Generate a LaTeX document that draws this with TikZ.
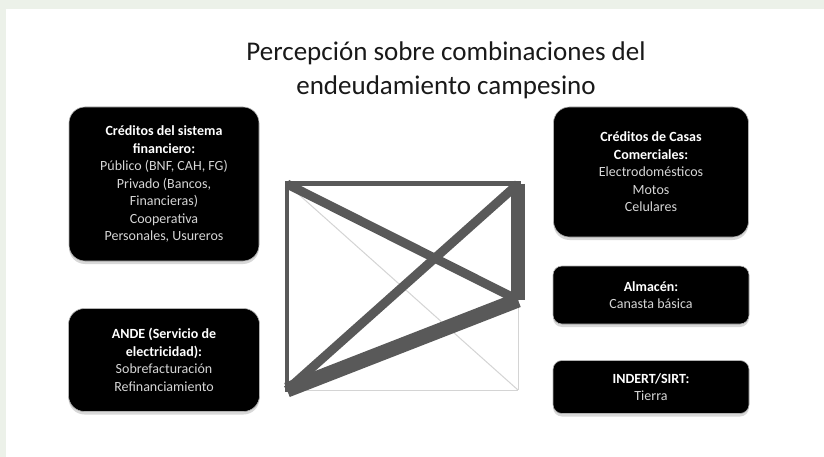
\documentclass[tikz,border=0pt]{standalone}
\usepackage{fontspec}
\setmainfont{Carlito}
\usetikzlibrary{shadows}

\definecolor{bgframe}{RGB}{236,241,233}
\definecolor{linkdark}{RGB}{89,89,89}
\definecolor{linklight}{RGB}{212,212,212}
\definecolor{boxtext}{RGB}{214,214,214}

\newcommand{\hd}[1]{\textcolor{white}{\bfseries #1}}

\tikzset{
  debtbox/.style={fill=black, draw=gray!60, line width=0.6pt, rounded corners=16pt,
    text=boxtext, align=center, inner sep=0pt,
    font=\fontsize{14}{17.5}\selectfont,
    drop shadow={opacity=0.3, shadow xshift=0pt, shadow yshift=-3pt}},
  flatbox/.style={debtbox, rounded corners=9pt},
  link/.style={draw=linkdark},
  weaklink/.style={draw=linklight, line width=1pt}
}

\begin{document}
\begin{tikzpicture}[x=1pt, y=-1pt]
    % Frame
    \fill[bgframe] (0,0) rectangle (824,457);
    \fill[white] (6,9) rectangle (824,457);
    \useasboundingbox (0,0) rectangle (824,457);

    % Title
    \node[font=\fontsize{27}{34}\selectfont, align=center, text=black!90] (title) at (446,70)
        {Percepción sobre combinaciones del\\endeudamiento campesino};

    % Left boxes
    \node[debtbox, minimum width=190pt, minimum height=154pt] (fin) at (164,184)
        {\hd{Créditos del sistema}\\ \hd{financiero:}\\ Público (BNF, CAH, FG)\\ Privado (Bancos,\\ Financieras)\\ Cooperativa\\ Personales, Usureros};
    \node[debtbox, minimum width=191pt, minimum height=103pt] (ande) at (164,360)
        {\hd{ANDE (Servicio de}\\ \hd{electricidad):}\\ Sobrefacturación\\ Refinanciamiento};

    % Right boxes
    \node[debtbox, minimum width=195pt, minimum height=130pt] (casas) at (651,172)
        {\hd{Créditos de Casas}\\ \hd{Comerciales:}\\ Electrodomésticos\\ Motos\\ Celulares};
    \node[flatbox, minimum width=196pt, minimum height=58pt] (almacen) at (651,295)
        {\hd{Almacén:}\\ Canasta básica};
    \node[flatbox, minimum width=196pt, minimum height=53pt] (indert) at (651,387)
        {\hd{INDERT/SIRT:}\\ Tierra};

    % Corners of the web
    \coordinate (pfin) at (287,184);
    \coordinate (pcasas) at (518,184);
    \coordinate (palm) at (518,300);
    \coordinate (pande) at (287,390);
    \coordinate (pind) at (518,390);

    % Weak links
    \foreach \a/\b in {pfin/pind, pande/pind, palm/pind}
        \draw[weaklink] (\a) -- (\b);

    % Strong links
    \draw[link, line width=4pt, line cap=rect] (pfin) -- (pande);
    \draw[link, line width=5pt, line cap=rect] (pfin) -- (pcasas);
    \draw[link, line width=9pt] (pfin) -- (palm);
    \draw[link, line width=9pt] (pande) -- (pcasas);
    \draw[link, line width=14pt] (pcasas) -- (palm);
    \draw[link, line width=15pt] (pande) -- (palm);
\end{tikzpicture}
\end{document}
